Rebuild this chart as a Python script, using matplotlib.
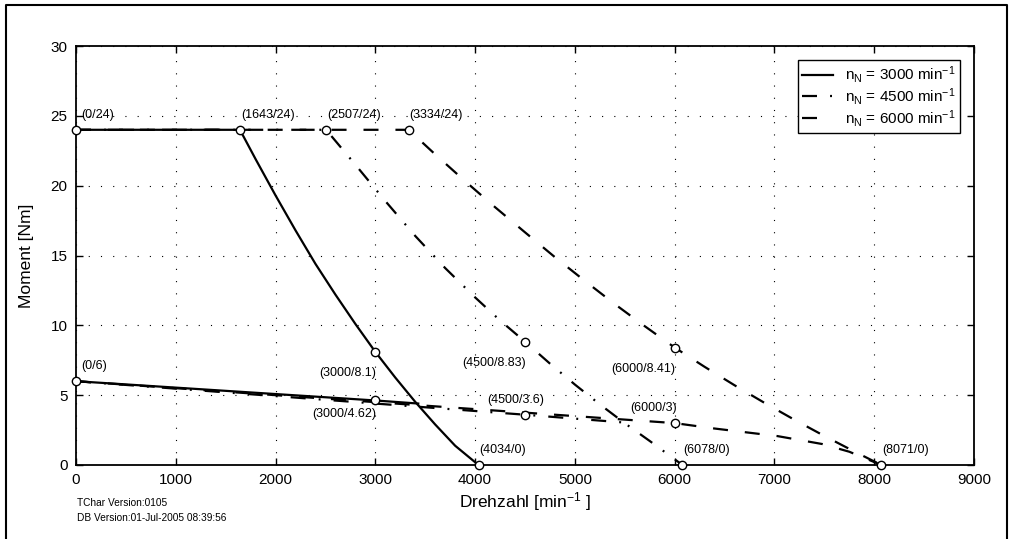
import numpy as np
import matplotlib
matplotlib.use('Agg')
import matplotlib.pyplot as plt
from matplotlib.lines import Line2D

plt.rcParams['font.family'] = ['Liberation Sans', 'DejaVu Sans']
plt.rcParams['lines.scale_dashes'] = False
plt.rcParams['mathtext.fontset'] = 'custom'
plt.rcParams['mathtext.rm'] = 'Liberation Sans'
plt.rcParams['mathtext.it'] = 'Liberation Sans'

# curves (speed in min^-1, torque in Nm)
n3000_top_x = [0, 1643, 1800, 2000, 2200, 2400, 2600, 2800, 3000, 3200, 3400, 3600, 3800, 4034]
n3000_top_y = [24, 24, 21.9, 19.3, 16.8, 14.4, 12.2, 10.1, 8.1, 6.26, 4.52, 2.9, 1.38, 0]
n3000_low_x = [0, 3000, 3430]
n3000_low_y = [6, 4.62, 4.4]

n4500_top_x = [0, 2507, 2800, 3100, 3400, 3700, 4000, 4250, 4500, 4750, 5000, 5250, 5500, 5750, 6078]
n4500_top_y = [24, 24, 21.5, 18.9, 16.4, 14.1, 12.0, 10.35, 8.83, 7.26, 5.76, 4.34, 2.99, 1.72, 0]
n4500_low_x = [0, 4500, 5480]
n4500_low_y = [6, 3.6, 3.05]

n6000_top_x = [0, 3334, 3600, 3900, 4200, 4500, 4800, 5100, 5400, 5700, 6000,
               6300, 6600, 6900, 7200, 7500, 7800, 8071]
n6000_top_y = [24, 24, 22.24, 20.32, 18.46, 16.66, 14.88, 13.18, 11.52, 9.94, 8.41,
               7.03, 5.71, 4.45, 3.24, 2.08, 0.97, 0]
n6000_low_x = [0, 6000, 6390, 7030, 7480, 7750, 8071]
n6000_low_y = [6, 3, 2.62, 2.07, 1.5, 0.95, 0]

# marked points and their labels
pts_x = [0, 1643, 2507, 3334, 0, 3000, 3000, 4500, 4500, 6000, 6000, 4034, 6078, 8071]
pts_y = [24, 24, 24, 24, 6, 8.1, 4.62, 8.83, 3.6, 8.41, 3, 0, 0, 0]
pts_lbl = ['(0/24)', '(1643/24)', '(2507/24)', '(3334/24)', '(0/6)', '(3000/8.1)',
           '(3000/4.62)', '(4500/8.83)', '(4500/3.6)', '(6000/8.41)', '(6000/3)',
           '(4034/0)', '(6078/0)', '(8071/0)']
# label placement: 'a' above-right, 'a0' above from marker, 'b' below-left, 'c' above-centre, 'd' above-left
pts_pos = ['a', 'a0', 'a0', 'a0', 'a', 'b', 'b2', 'b', 'c', 'b', 'd', 'a0', 'a0', 'a0']

legend_lbl = ['n$_{\\mathrm{N}}$ = 3000 min$^{-1}$',
              'n$_{\\mathrm{N}}$ = 4500 min$^{-1}$',
              'n$_{\\mathrm{N}}$ = 6000 min$^{-1}$']

fig = plt.figure(figsize = (10.11, 5.39), dpi = 100)
ax = fig.add_axes([76/1011, 1 - 465/539, (974 - 76)/1011, (465 - 46)/539])

dash = (0, (10.8, 12.2))
dashdot = (0, (10.8, 9.4, 1.4, 9.4))
lw = 1.6

l1, = ax.plot(n3000_top_x, n3000_top_y, color = 'k', lw = lw, ls = '-', zorder = 3)
ax.plot(n3000_low_x, n3000_low_y, color = 'k', lw = lw, ls = '-', zorder = 3)
l2, = ax.plot(n4500_top_x, n4500_top_y, color = 'k', lw = lw, ls = dashdot, zorder = 3)
ax.plot(n4500_low_x, n4500_low_y, color = 'k', lw = lw, ls = dashdot, zorder = 3)
l3, = ax.plot(n6000_top_x, n6000_top_y, color = 'k', lw = lw, ls = dash, zorder = 3)
ax.plot(n6000_low_x, n6000_low_y, color = 'k', lw = lw, ls = dash, zorder = 3)

ax.plot(pts_x, pts_y, ls = 'none', marker = 'o', ms = 6, mfc = 'w', mec = 'k',
        mew = 1.0, zorder = 5, clip_on = False)

offs = {'a': ((5, 9), 'left'), 'a0': ((1, 9), 'left'), 'b': ((1, -27), 'right'),
        'b2': ((1, -20), 'right'), 'c': ((-9, 9), 'center'), 'd': ((2, 9), 'right')}
for x, y, t, p in zip(pts_x, pts_y, pts_lbl, pts_pos):
    (dx, dy), ha = offs[p]
    ax.annotate(t, (x, y), xytext = (dx, dy), textcoords = 'offset pixels',
                ha = ha, va = 'bottom', fontsize = 9, zorder = 6)

ax.set_xlim(0, 9000)
ax.set_ylim(0, 30)
ax.set_xticks(np.arange(0, 9001, 1000))
ax.set_yticks(np.arange(0, 31, 5))
ax.tick_params(direction = 'in', length = 5, width = 1, top = True, right = True,
               labelsize = 11, pad = 6)
ax.grid(True, color = 'k', ls = (0, (0.8, 8)), lw = 0.8)
for s in ax.spines.values():
    s.set_linewidth(1.3)

ax.set_xlabel('Drehzahl [min$^{-1}$ ]', fontsize = 12.5, labelpad = 2)
ax.set_ylabel('Moment [Nm]', fontsize = 12.5, labelpad = 12)

leg = ax.legend([l1, l2, l3], legend_lbl, loc = 'upper right', fontsize = 11,
                fancybox = False, edgecolor = 'k', framealpha = 1, handlelength = 2.0,
                borderaxespad = 0.9, labelspacing = 0.05, borderpad = 0.3)
leg.get_frame().set_linewidth(1.0)

fig.text(77/1011, 1 - 503/539, 'TChar Version:0105', fontsize = 7.3, va = 'center')
fig.text(77/1011, 1 - 518/539, 'DB Version:01-Jul-2005 08:39:56', fontsize = 7.3, va = 'center')

# outer frame
fig.add_artist(Line2D([6/1011, 6/1011, 1007/1011, 1007/1011], [0, 1 - 5/539, 1 - 5/539, 0],
                      color = 'k', lw = 1.5, transform = fig.transFigure))

fig.savefig('out.png', dpi = 100)
